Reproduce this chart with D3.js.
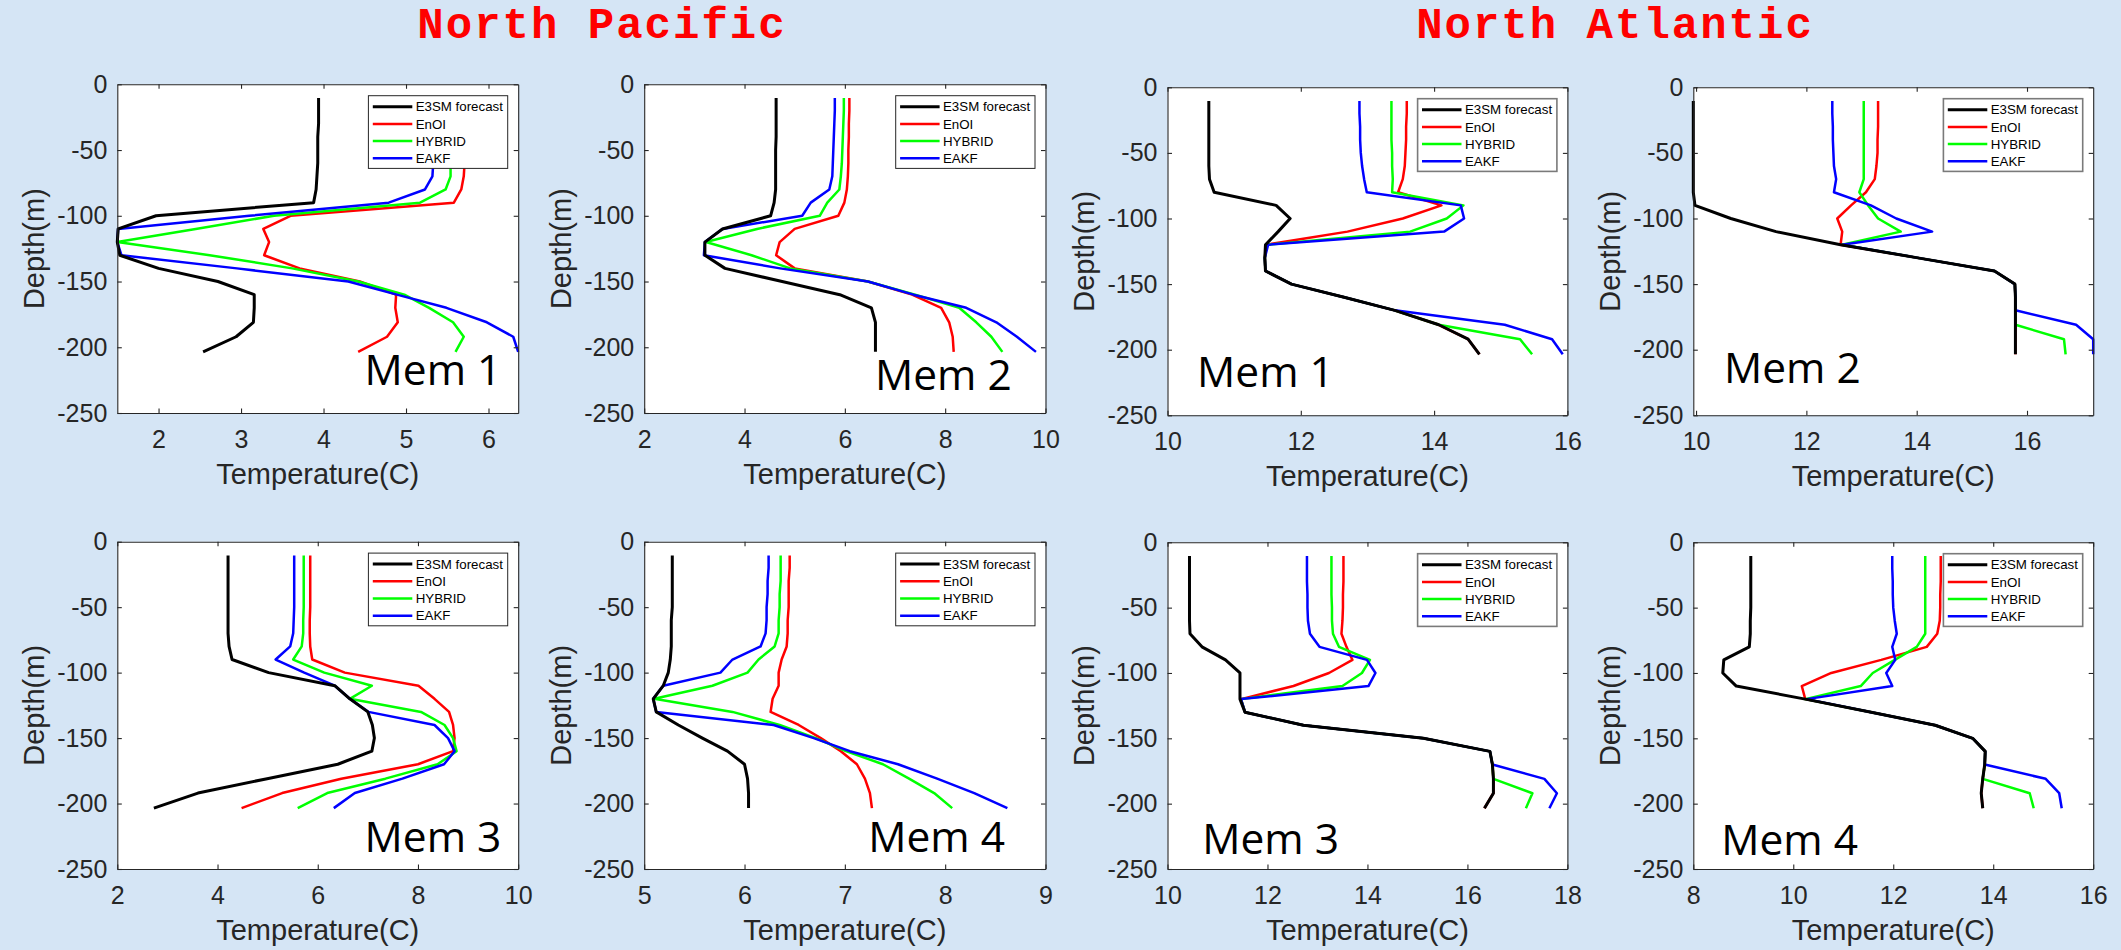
<!DOCTYPE html>
<html><head><meta charset="utf-8">
<script src="https://cdn.jsdelivr.net/npm/d3@7"></script>
<style>
html,body{margin:0;padding:0;background:#d5e5f5;}
svg{display:block;}
</style></head><body>
<svg id="chart" width="2121" height="950"></svg>
<script>
// ---------------- DATA ----------------
const depths = [-10.5,-20,-30,-40,-50,-60,-70,-80,-90,-100,-110,-120,-130,-140,-150,-160,-170,-181,-192,-203.5];
const seriesNames = ["E3SM forecast","EnOI","HYBRID","EAKF"];
const depthTicks = [0,-50,-100,-150,-200,-250];
const regionTitles = ["North Pacific","North Atlantic"];
const memberLabels = ["Mem 1","Mem 2","Mem 1","Mem 2","Mem 3","Mem 4","Mem 3","Mem 4"];

// North Pacific, Mem 1
const pac1E3SM   = [3.94,3.94,3.94,3.93,3.93,3.93,3.92,3.91,3.88,1.97,1.51,1.50,1.53,2.00,2.72,3.16,3.16,3.15,2.94,2.54];
const pac1EnOI   = [5.72,5.72,5.72,5.72,5.71,5.71,5.70,5.67,5.58,3.60,3.27,3.34,3.28,3.71,4.44,4.88,4.87,4.90,4.77,4.42];
const pac1Hybrid = [5.55,5.55,5.55,5.55,5.55,5.54,5.54,5.48,5.17,3.40,2.45,1.50,2.62,3.62,4.42,4.98,5.28,5.57,5.70,5.60];
const pac1EAKF   = [5.33,5.33,5.33,5.33,5.33,5.33,5.32,5.23,4.79,3.10,1.51,1.50,1.55,2.95,4.30,4.89,5.49,5.98,6.30,6.36];
// North Pacific, Mem 2
const pac2E3SM   = [4.63,4.63,4.63,4.63,4.62,4.62,4.62,4.62,4.59,4.52,3.56,3.21,3.21,3.61,4.75,5.90,6.53,6.61,6.61,6.61];
const pac2EnOI   = [6.09,6.09,6.08,6.08,6.07,6.07,6.06,6.04,5.99,5.87,5.00,4.70,4.63,5.00,6.46,7.34,7.92,8.08,8.15,8.17];
const pac2Hybrid = [5.98,5.98,5.97,5.96,5.95,5.94,5.92,5.89,5.65,5.50,4.25,3.23,4.14,4.91,6.46,7.40,8.28,8.62,8.92,9.14];
const pac2EAKF   = [5.80,5.80,5.79,5.78,5.77,5.76,5.75,5.69,5.32,5.15,3.56,3.21,3.19,4.71,6.46,7.37,8.42,9.02,9.43,9.81];
// North Atlantic, Mem 1
const atl1E3SM   = [10.62,10.62,10.62,10.62,10.62,10.62,10.63,10.70,11.63,11.84,11.66,11.47,11.46,11.47,11.86,12.65,13.41,14.07,14.51,14.68];
const atl1EnOI   = [13.59,13.59,13.58,13.58,13.57,13.56,13.53,13.46,14.11,13.53,12.70,11.48,11.46,11.47,11.86,12.65,13.41,14.07,14.51,14.68];
const atl1Hybrid = [13.36,13.36,13.36,13.36,13.37,13.37,13.38,13.37,14.44,14.19,13.64,11.49,11.46,11.47,11.86,12.65,13.41,14.07,15.29,15.47];
const atl1EAKF   = [12.88,12.88,12.89,12.89,12.90,12.92,12.95,12.99,14.40,14.45,14.15,11.51,11.46,11.47,11.86,12.65,13.41,15.06,15.77,15.93];
// North Atlantic, Mem 2
const atl2E3SM   = [9.95,9.95,9.95,9.95,9.95,9.95,9.95,9.95,9.98,10.63,11.45,12.62,14.02,15.41,15.78,15.79,15.79,15.79,15.79,15.79];
const atl2EnOI   = [13.30,13.30,13.30,13.29,13.29,13.27,13.24,13.08,12.81,12.56,12.65,12.62,14.02,15.41,15.78,15.79,15.79,15.79,15.79,15.79];
const atl2Hybrid = [13.04,13.04,13.04,13.04,13.04,13.04,13.04,12.96,13.12,13.30,13.71,12.65,14.02,15.41,15.78,15.79,15.79,15.79,16.67,16.70];
const atl2EAKF   = [12.47,12.47,12.48,12.48,12.49,12.50,12.54,12.50,13.17,13.63,14.28,12.65,14.02,15.41,15.78,15.79,15.79,16.89,17.20,17.20];
// North Pacific, Mem 3
const pac3E3SM   = [4.21,4.21,4.21,4.21,4.21,4.21,4.21,4.23,4.29,5.02,6.34,6.64,7.00,7.09,7.13,7.08,6.40,4.99,3.61,2.73];
const pac3EnOI   = [5.85,5.85,5.85,5.85,5.85,5.84,5.84,5.85,5.89,6.54,8.01,8.33,8.62,8.70,8.73,8.70,8.00,6.47,5.29,4.48];
const pac3Hybrid = [5.72,5.72,5.72,5.72,5.72,5.71,5.71,5.68,5.51,6.13,7.08,6.64,8.06,8.53,8.70,8.77,8.39,7.35,6.19,5.60];
const pac3EAKF   = [5.53,5.53,5.53,5.53,5.53,5.52,5.51,5.45,5.16,5.73,6.34,6.64,7.01,8.33,8.60,8.73,8.52,7.69,6.74,6.32];
// North Pacific, Mem 4
const pac4E3SM   = [5.28,5.28,5.28,5.28,5.28,5.27,5.27,5.27,5.26,5.24,5.19,5.09,5.12,5.34,5.58,5.83,6.00,6.03,6.04,6.04];
const pac4EnOI   = [6.45,6.45,6.44,6.44,6.44,6.43,6.43,6.42,6.37,6.34,6.34,6.28,6.26,6.54,6.76,6.96,7.12,7.20,7.25,7.27];
const pac4Hybrid = [6.36,6.36,6.36,6.35,6.35,6.34,6.34,6.30,6.14,6.03,5.68,5.10,5.88,6.35,6.71,7.01,7.38,7.64,7.89,8.07];
const pac4EAKF   = [6.24,6.24,6.23,6.23,6.22,6.22,6.21,6.16,5.88,5.76,5.19,5.09,5.12,6.29,6.69,7.05,7.53,7.92,8.29,8.62];
// North Atlantic, Mem 3
const atl3E3SM   = [10.44,10.44,10.44,10.44,10.44,10.44,10.45,10.69,11.16,11.45,11.45,11.45,11.55,12.72,15.12,16.45,16.50,16.52,16.52,16.34];
const atl3EnOI   = [13.52,13.52,13.52,13.51,13.51,13.50,13.48,13.58,13.70,13.23,12.52,11.47,11.55,12.72,15.12,16.45,16.50,16.52,16.52,16.34];
const atl3Hybrid = [13.28,13.28,13.28,13.28,13.29,13.29,13.31,13.43,14.05,13.89,13.50,11.47,11.55,12.72,15.12,16.45,16.50,16.52,17.30,17.17];
const atl3EAKF   = [12.79,12.79,12.79,12.80,12.80,12.81,12.85,13.04,13.99,14.16,14.02,11.47,11.55,12.72,15.12,16.45,16.50,17.54,17.79,17.64];
// North Atlantic, Mem 4
const atl4E3SM   = [9.15,9.15,9.15,9.15,9.15,9.14,9.14,9.12,8.61,8.59,8.86,10.24,11.56,12.84,13.59,13.84,13.83,13.79,13.76,13.79];
const atl4EnOI   = [12.95,12.95,12.95,12.94,12.94,12.93,12.88,12.67,11.76,10.76,10.17,10.24,11.56,12.84,13.59,13.84,13.83,13.79,13.76,13.79];
const atl4Hybrid = [12.64,12.64,12.64,12.64,12.64,12.64,12.64,12.47,12.03,11.59,11.35,10.24,11.56,12.84,13.59,13.84,13.83,13.79,14.73,14.81];
const atl4EAKF   = [11.98,11.98,11.99,11.99,12.00,12.03,12.07,11.98,12.04,11.86,11.98,10.27,11.56,12.84,13.59,13.84,13.83,15.05,15.32,15.37];

// x-axis limits and tick labels for each panel
const pac1XTicks = [2,3,4,5,6],       pac1XLim = [1.5, 6.36];
const pac2XTicks = [2,4,6,8,10],      pac2XLim = [2, 10];
const atl1XTicks = [10,12,14,16],     atl1XLim = [10, 16];
const atl2XTicks = [10,12,14,16],     atl2XLim = [9.95, 17.2];
const pac3XTicks = [2,4,6,8,10],      pac3XLim = [2, 10];
const pac4XTicks = [5,6,7,8,9],       pac4XLim = [5, 9];
const atl3XTicks = [10,12,14,16,18],  atl3XLim = [10, 18];
const atl4XTicks = [8,10,12,14,16],   atl4XLim = [8, 16];

// ---------------- LAYOUT / STYLE ----------------
const colors = ["#000000","#ff0000","#00ff00","#0000ff"];
const widths = [3, 2.5, 2.5, 2.5];
const panels = [
  {L:117.3, R:518.2,  T:84.3,  B:413.0, lim:pac1XLim, ticks:pac1XTicks, s:[pac1E3SM,pac1EnOI,pac1Hybrid,pac1EAKF], memX:248.8, memY:300.7, legStroke:"#262626", legW:1},
  {L:644.2, R:1045.5, T:84.3,  B:413.0, lim:pac2XLim, ticks:pac2XTicks, s:[pac2E3SM,pac2EnOI,pac2Hybrid,pac2EAKF], memX:232.3, memY:305.7, legStroke:"#262626", legW:1},
  {L:1167.5,R:1567.4, T:87.3,  B:415.3, lim:atl1XLim, ticks:atl1XTicks, s:[atl1E3SM,atl1EnOI,atl1Hybrid,atl1EAKF], memX:31.1,  memY:299.4, legStroke:"#7a7a7a", legW:1.6},
  {L:1693.3,R:2093.2, T:87.3,  B:415.3, lim:atl2XLim, ticks:atl2XTicks, s:[atl2E3SM,atl2EnOI,atl2Hybrid,atl2EAKF], memX:32.2,  memY:296,   legStroke:"#7a7a7a", legW:1.6},
  {L:117.3, R:518.2,  T:541.7, B:869.0, lim:pac3XLim, ticks:pac3XTicks, s:[pac3E3SM,pac3EnOI,pac3Hybrid,pac3EAKF], memX:248.8, memY:310,   legStroke:"#262626", legW:1},
  {L:644.2, R:1045.5, T:541.7, B:869.0, lim:pac4XLim, ticks:pac4XTicks, s:[pac4E3SM,pac4EnOI,pac4Hybrid,pac4EAKF], memX:225.5, memY:310,   legStroke:"#262626", legW:1},
  {L:1167.5,R:1567.4, T:542.3, B:869.0, lim:atl3XLim, ticks:atl3XTicks, s:[atl3E3SM,atl3EnOI,atl3Hybrid,atl3EAKF], memX:36.2,  memY:311.7, legStroke:"#7a7a7a", legW:1.6},
  {L:1693.3,R:2093.2, T:542.3, B:869.0, lim:atl4XLim, ticks:atl4XTicks, s:[atl4E3SM,atl4EnOI,atl4Hybrid,atl4EAKF], memX:29.4,  memY:312.7, legStroke:"#7a7a7a", legW:1.6}
];

const svg = d3.select("#chart");
svg.append("rect").attr("width",2121).attr("height",950).attr("fill","#d5e5f5");

// titles
const titleX = [602, 1615];
regionTitles.forEach((t,i)=>{
  svg.append("text").attr("x",titleX[i]).attr("y",38)
    .attr("text-anchor","middle")
    .attr("font-family","'Courier New','Liberation Mono',monospace")
    .attr("font-weight","bold").attr("font-size",44).attr("letter-spacing",2)
    .attr("fill","#ff0000")
    .text(t);
});

const fmt = d => String(d);
const axisColor = "#262626";
const tickFont = "'Liberation Sans',Arial,sans-serif";

panels.forEach((p,pi)=>{
  const g = svg.append("g");
  const x = d3.scaleLinear().domain(p.lim).range([p.L,p.R]);
  const y = d3.scaleLinear().domain([0,-250]).range([p.T,p.B]);

  g.append("rect").attr("x",p.L).attr("y",p.T).attr("width",p.R-p.L).attr("height",p.B-p.T).attr("fill","#ffffff");

  // series lines (forecast drawn last so it sits on top where curves coincide)
  const line = d3.line().x(d=>x(d[0])).y(d=>y(d[1]));
  const order = [1,2,3,0];
  order.forEach(si=>{
    const pts = p.s[si].map((v,k)=>[v,depths[k]]);
    g.append("path").attr("d",line(pts)).attr("fill","none")
      .attr("stroke",colors[si]).attr("stroke-width",widths[si])
      .attr("stroke-linejoin","round");
  });

  // axes
  const styleAxis = sel => {
    sel.select(".domain").attr("stroke",axisColor).attr("stroke-width",1.1);
    sel.selectAll(".tick line").attr("stroke",axisColor).attr("stroke-width",1.1);
    sel.selectAll(".tick text").attr("fill",axisColor).attr("font-family",tickFont).attr("font-size",25);
  };
  g.append("g").attr("transform",`translate(0,${p.B})`)
    .call(d3.axisBottom(x).tickValues(p.ticks).tickSizeInner(-4.5).tickSizeOuter(0).tickPadding(17.2).tickFormat(fmt))
    .call(styleAxis);
  g.append("g").attr("transform",`translate(0,${p.T})`)
    .call(d3.axisTop(x).tickValues(p.ticks).tickSizeInner(-4.5).tickSizeOuter(0).tickFormat(""))
    .call(styleAxis);
  g.append("g").attr("transform",`translate(${p.L},0)`)
    .call(d3.axisLeft(y).tickValues(depthTicks).tickSizeInner(-4.5).tickSizeOuter(0).tickPadding(10).tickFormat(fmt))
    .call(styleAxis);
  g.append("g").attr("transform",`translate(${p.R},0)`)
    .call(d3.axisRight(y).tickValues(depthTicks).tickSizeInner(-4.5).tickSizeOuter(0).tickFormat(""))
    .call(styleAxis);

  // axis labels
  g.append("text").attr("x",(p.L+p.R)/2).attr("y",p.B+71)
    .attr("text-anchor","middle").attr("font-family",tickFont).attr("font-size",29).attr("fill",axisColor)
    .text("Temperature(C)");
  g.append("text").attr("transform",`translate(${p.L-73.4},${(p.T+p.B)/2}) rotate(-90)`)
    .attr("text-anchor","middle").attr("font-family",tickFont).attr("font-size",29).attr("fill",axisColor)
    .text("Depth(m)");

  // legend
  const lw = 139.3, lh = 72.7;
  const lg = g.append("g").attr("transform",`translate(${p.R-10.5-lw},${p.T+11.4})`);
  lg.append("rect").attr("width",lw).attr("height",lh).attr("fill","#ffffff")
    .attr("stroke",p.legStroke).attr("stroke-width",p.legW);
  seriesNames.forEach((n,i)=>{
    const yy = 11 + i*17.2;
    lg.append("line").attr("x1",4.4).attr("x2",43.9).attr("y1",yy).attr("y2",yy)
      .attr("stroke",colors[i]).attr("stroke-width",widths[i]);
    lg.append("text").attr("x",47.3).attr("y",yy).attr("dy","0.36em")
      .attr("font-family",tickFont).attr("font-size",13.3).attr("fill","#000").text(n);
  });

  // member label
  g.append("text").attr("x",p.L+p.memX-1.5).attr("y",p.T+p.memY)
    .attr("font-family","'Open Sans',Lato,sans-serif").attr("font-size",42.5).attr("fill","#000")
    .text(memberLabels[pi]);
});
</script>
</body></html>
